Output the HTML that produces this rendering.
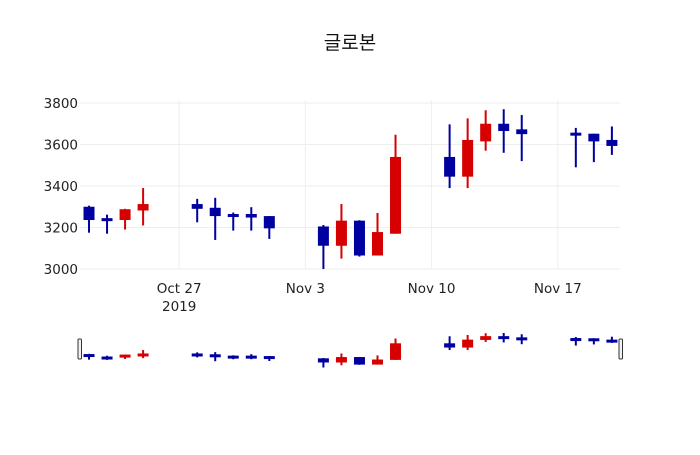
<!DOCTYPE html>
<html><head><meta charset="utf-8"><style>
body{margin:0;background:#fff}
svg text{font-family:"DejaVu Sans","Noto Sans CJK KR",sans-serif;fill:#222}
</style></head><body>
<svg id="c" width="700" height="450" viewBox="0 0 700 450" xmlns="http://www.w3.org/2000/svg">
<rect width="700" height="450" fill="#fff"/>
<text x="350" y="49" text-anchor="middle" font-size="19" style="fill:#111">글로본</text>
<g id="grid"></g><g id="main"></g><g id="slider"></g>
</svg>
<script>
const dates=["2019-10-22","2019-10-23","2019-10-24","2019-10-25","2019-10-28","2019-10-29","2019-10-30","2019-10-31","2019-11-01","2019-11-04","2019-11-05","2019-11-06","2019-11-07","2019-11-08","2019-11-11","2019-11-12","2019-11-13","2019-11-14","2019-11-15","2019-11-18","2019-11-19","2019-11-20"];
const opens=[3300,3245,3236,3282,3313,3295,3265,3265,3255,3205,3112,3233,3065,3170,3540,3445,3615,3700,3673,3657,3652,3622];
const highs=[3305,3262,3290,3390,3338,3343,3272,3298,3255,3212,3313,3235,3270,3647,3697,3726,3765,3770,3742,3680,3652,3687];
const lows=[3175,3170,3190,3210,3225,3140,3185,3185,3145,3000,3050,3060,3065,3170,3390,3390,3570,3560,3520,3490,3515,3550];
const closes=[3236,3238,3288,3313,3290,3255,3258,3248,3196,3112,3233,3065,3178,3540,3445,3622,3700,3665,3650,3648,3615,3593];
const yTicks=[3000,3200,3400,3600,3800];
const xTicks=["2019-10-27","2019-11-03","2019-11-10","2019-11-17"];
const xTickLabels=["Oct 27","Nov 3","Nov 10","Nov 17"];

const NS="http://www.w3.org/2000/svg";
const D0=Date.UTC(2019,9,27);
function day(s){const p=s.split("-");return (Date.UTC(+p[0],+p[1]-1,+p[2])-D0)/864e5;}
const X0=80,X1=620,dMin=-5.5,dMax=24.45;
function x(s){return X0+(day(s)-dMin)/(dMax-dMin)*(X1-X0);}
function y(v){return 269-(v-3000)*0.2075;}
const sMin=Math.min(...lows),sMax=Math.max(...highs);
function ys(v){return 367.5-(v-sMin)/(sMax-sMin)*34.5;}
function el(t,a,p){const e=document.createElementNS(NS,t);for(const k in a)e.setAttribute(k,a[k]);p.appendChild(e);return e;}
const grid=document.getElementById("grid"),main=document.getElementById("main"),sl=document.getElementById("slider");
yTicks.forEach(v=>{
  const l=el("line",{x1:X0,x2:X1,y1:y(v),y2:y(v),stroke:"#eee","stroke-width":1},grid);
  
  
  const t=el("text",{x:X0-2,y:y(v)+5,"text-anchor":"end","font-size":"13.5"},grid);t.textContent=v;
  
  
});
xTicks.forEach((d,i)=>{
  const l=el("line",{x1:x(d),x2:x(d),y1:100,y2:269,stroke:"#eee","stroke-width":1},grid);
  
  
  const t=el("text",{x:x(d),y:293,"text-anchor":"middle","font-size":"13.5"},grid);t.textContent=xTickLabels[i];
  
  
});
const yr=el("text",{x:x(xTicks[0]),y:311,"text-anchor":"middle","font-size":"13.5"},grid);yr.textContent="2019";


function candle(g,i,yf,name,bw){
  const up=closes[i]>=opens[i],c=up?"#d60000":"#0000a0",cx=x(dates[i]);
  const w=el("line",{x1:cx,x2:cx,y1:yf(highs[i]),y2:yf(lows[i]),stroke:c,"stroke-width":2},g);
  
  
  const t=Math.min(yf(opens[i]),yf(closes[i])),h=Math.max(3,Math.abs(yf(opens[i])-yf(closes[i])));
  const r=el("rect",{x:cx-bw/2,y:t,width:bw,height:h,fill:c},g);
  
  
}
dates.forEach((d,i)=>{candle(main,i,y,'candle',11);candle(sl,i,ys,'slider-candle',11);});
[[78,'range-handle-left'],[619,'range-handle-right']].forEach(([hx,n])=>{
  const h=el("rect",{x:hx,y:339,width:3.5,height:20,rx:1,fill:"#f2f2f2",stroke:"#333","stroke-width":1},sl);
  
  
});
</script>
</body></html>
